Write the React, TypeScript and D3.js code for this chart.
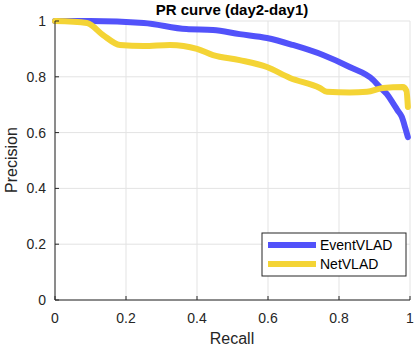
import React from "react";
import * as d3 from "d3";

const eventRecall = [0, 0.1, 0.25, 0.37, 0.445, 0.52, 0.597, 0.67, 0.755, 0.83, 0.896, 0.915, 0.935, 0.952, 0.965, 0.977, 0.986, 0.994];
const eventPrecision = [1, 1, 0.993, 0.971, 0.968, 0.953, 0.939, 0.914, 0.878, 0.835, 0.789, 0.763, 0.738, 0.706, 0.68, 0.656, 0.62, 0.584];

const netRecall = [0, 0.09, 0.135, 0.183, 0.25, 0.324, 0.4, 0.445, 0.52, 0.597, 0.662, 0.746, 0.766, 0.83, 0.879, 0.924, 0.98, 0.99, 0.994];
const netPrecision = [1, 0.993, 0.95, 0.914, 0.91, 0.914, 0.9, 0.878, 0.86, 0.835, 0.796, 0.76, 0.746, 0.744, 0.746, 0.76, 0.763, 0.75, 0.692];

const xTicks = [0, 0.2, 0.4, 0.6, 0.8, 1];
const yTicks = [0, 0.2, 0.4, 0.6, 0.8, 1];

const series = [
  { name: "EventVLAD", color: "#5252fa", recall: eventRecall, precision: eventPrecision },
  { name: "NetVLAD", color: "#f4d435", recall: netRecall, precision: netPrecision },
];

const App = () => {
  const left = 55, right = 410, top = 21, bottom = 300;
  const x = d3.scaleLinear().domain([0, 1]).range([left, right]);
  const y = d3.scaleLinear().domain([0, 1]).range([bottom, top]);
  const font = "'Liberation Sans', Arial, sans-serif";

  const makeLine = (r: number[], p: number[]) =>
    d3.line<number>()
      .x((_, i) => x(r[i]))
      .y((v) => y(v))
      .curve(d3.curveMonotoneX)(p);

  return (
    <svg width={415} height={349} style={{ position: "absolute", left: 0, top: 0 }} fontFamily={font}>
      <rect width={415} height={349} fill="#fff" />
      {xTicks.map((t) => (
        <line key={"gx" + t} x1={x(t)} x2={x(t)} y1={top} y2={bottom} stroke="#e3e3e3" />
      ))}
      {yTicks.map((t) => (
        <line key={"gy" + t} x1={left} x2={right} y1={y(t)} y2={y(t)} stroke="#e3e3e3" />
      ))}
      {series.map((s) => (
        <path key={s.name} d={makeLine(s.recall, s.precision) || ""} fill="none"
          stroke={s.color} strokeWidth={6} strokeLinejoin="round" strokeLinecap="round" />
      ))}
      <line x1={left} x2={left} y1={top} y2={bottom} stroke="#262626" />
      <line x1={left} x2={right} y1={bottom} y2={bottom} stroke="#262626" />
      {xTicks.map((t) => (
        <g key={"tx" + t}>
          <line x1={x(t)} x2={x(t)} y1={bottom} y2={bottom - 4} stroke="#262626" />
          <text x={x(t)} y={323} textAnchor="middle" fontSize={14} fill="#262626">{t}</text>
        </g>
      ))}
      {yTicks.map((t) => (
        <g key={"ty" + t}>
          <line x1={left} x2={left + 4} y1={y(t)} y2={y(t)} stroke="#262626" />
          <text x={46} y={y(t) + 5} textAnchor="end" fontSize={14} fill="#262626">{t}</text>
        </g>
      ))}
      <text x={232} y={15} textAnchor="middle" fontSize={15} fontWeight="bold" fill="#000">PR curve (day2-day1)</text>
      <text x={232} y={344} textAnchor="middle" fontSize={16} fill="#262626">Recall</text>
      <text transform="translate(17,160) rotate(-90)" textAnchor="middle" fontSize={16} fill="#262626">Precision</text>
      <rect x={262} y={233} width={144} height={43} fill="#fff" stroke="#262626" />
      {series.map((s, i) => (
        <g key={"lg" + s.name}>
          <line x1={268} x2={316} y1={245 + i * 19} y2={245 + i * 19} stroke={s.color} strokeWidth={6} />
          <text x={320} y={250 + i * 19} fontSize={14} fill="#000">{s.name}</text>
        </g>
      ))}
    </svg>
  );
};

export default App;
